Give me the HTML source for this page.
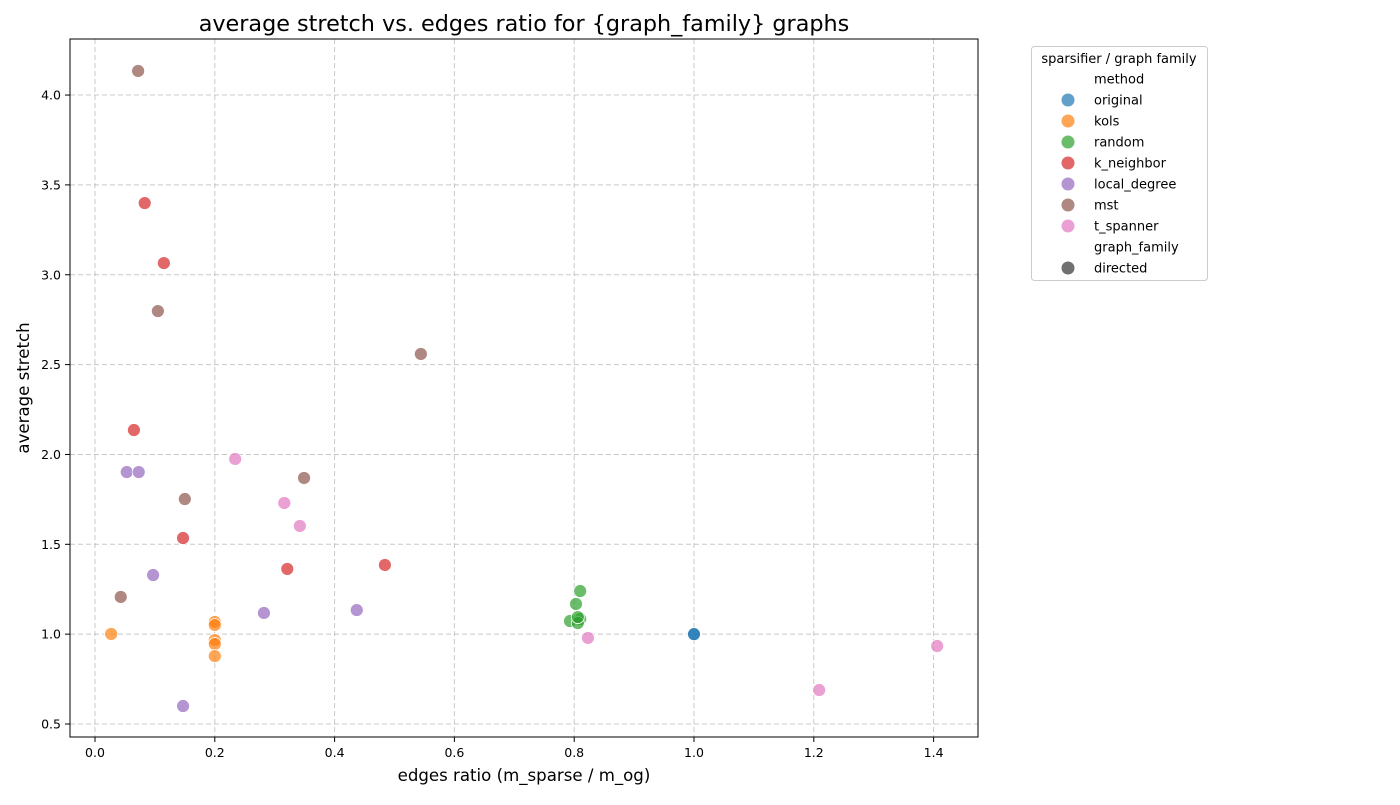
<!DOCTYPE html>
<html><head><meta charset="utf-8"><style>
body{margin:0;background:#fff;font-family:"Liberation Sans","DejaVu Sans",sans-serif;}
svg text{font-family:"DejaVu Sans","Liberation Sans",sans-serif;}
</style></head><body>
<svg id="c" width="1400" height="800">
<text x="524" y="31" font-size="22.3" text-anchor="middle">average stretch vs. edges ratio for {graph_family} graphs</text>
<g id="grid"></g>
<g id="ticks"></g>
<g id="pts"></g>
<rect x="70" y="39" width="908" height="698" fill="none" stroke="#000" stroke-width="1"/>
<text x="524" y="781" font-size="16.6" text-anchor="middle">edges ratio (m_sparse / m_og)</text>
<text transform="translate(29,388) rotate(-90)" font-size="16.6" text-anchor="middle">average stretch</text>
<g id="legend"></g>
</svg>
<script>
const methods=["original","kols","random","k_neighbor","local_degree","mst","t_spanner"];
const colors=["#1f77b4","#ff7f0e","#2ca02c","#d62728","#9467bd","#8c564b","#e377c2"];
const xTicks=[0,0.2,0.4,0.6,0.8,1.0,1.2,1.4];
const yTicks=[0.5,1.0,1.5,2.0,2.5,3.0,3.5,4.0];
const xOriginal=[1.0,1.0];
const yOriginal=[1.0,1.0];
const xKols=[0.027,0.2,0.2,0.2,0.2,0.2];
const yKols=[1.001,1.068,1.051,0.967,0.945,0.878];
const xRandom=[0.81,0.803,0.793,0.81,0.806,0.806];
const yRandom=[1.240,1.168,1.073,1.084,1.062,1.095];
const xKNeighbor=[0.083,0.115,0.065,0.147,0.321,0.484];
const yKNeighbor=[3.399,3.065,2.136,1.535,1.363,1.385];
const xLocalDegree=[0.053,0.073,0.097,0.282,0.437,0.147];
const yLocalDegree=[1.902,1.902,1.329,1.118,1.134,0.600];
const xMst=[0.072,0.105,0.544,0.349,0.150,0.043];
const yMst=[4.134,2.798,2.559,1.869,1.752,1.207];
const xTSpanner=[0.234,0.316,0.342,0.823,1.209,1.406];
const yTSpanner=[1.975,1.730,1.602,0.979,0.689,0.934];
const seriesX=[xOriginal,xKols,xRandom,xKNeighbor,xLocalDegree,xMst,xTSpanner];
const seriesY=[yOriginal,yKols,yRandom,yKNeighbor,yLocalDegree,yMst,yTSpanner];
const NS="http://www.w3.org/2000/svg";
const sx=v=>95+599*v, sy=v=>724-(v-0.5)*179.7;
function mk(t,a,p){const e=document.createElementNS(NS,t);for(const k in a)e.setAttribute(k,a[k]);p.appendChild(e);return e;}
const grid=document.getElementById('grid'),ticks=document.getElementById('ticks'),pts=document.getElementById('pts'),lg=document.getElementById('legend');
xTicks.forEach(v=>{const x=sx(v);
 const l=mk('line',{x1:x,x2:x,y1:39,y2:737,stroke:'#b0b0b0','stroke-dasharray':'5,3','stroke-opacity':0.7},grid);
 
 
 mk('line',{x1:x,x2:x,y1:737,y2:742,stroke:'#000'},ticks);
 const t=mk('text',{x:x,y:757,'font-size':12.5,'text-anchor':'middle'},ticks);t.textContent=v.toFixed(1);
 
 });
yTicks.forEach(v=>{const y=sy(v);
 const l=mk('line',{x1:70,x2:978,y1:y,y2:y,stroke:'#b0b0b0','stroke-dasharray':'5,3','stroke-opacity':0.7},grid);
 
 
 mk('line',{x1:65,x2:70,y1:y,y2:y,stroke:'#000'},ticks);
 const t=mk('text',{x:61,y:y+4.5,'font-size':12.5,'text-anchor':'end'},ticks);t.textContent=v.toFixed(1);
 
 });
methods.forEach((m,i)=>{seriesX[i].forEach((xv,j)=>{
 const c=mk('circle',{cx:sx(xv),cy:sy(seriesY[i][j]),r:6.5,fill:colors[i],'fill-opacity':0.7,stroke:'#fff','stroke-width':0.8},pts);
 
 });});
mk('rect',{x:1031.5,y:46.5,width:176,height:234,rx:3,fill:'#fff',stroke:'#ccc'},lg);
let t=mk('text',{x:1119,y:63,'font-size':13,'text-anchor':'middle'},lg);t.textContent='sparsifier / graph family';


const rows=["method",...methods,"graph_family","directed"];
rows.forEach((r,i)=>{const y=79+i*21;
 const g=mk('g',{},lg);
 
 
 if(i>=1&&i<=7) mk('circle',{cx:1068,cy:y,r:6.5,fill:colors[i-1],'fill-opacity':0.7},g);
 if(r==='directed') mk('circle',{cx:1068,cy:y,r:6.5,fill:'#333','fill-opacity':0.7},g);
 const tx=mk('text',{x:1094,y:y+4.5,'font-size':13},g);tx.textContent=r;});
</script>
</body></html>
